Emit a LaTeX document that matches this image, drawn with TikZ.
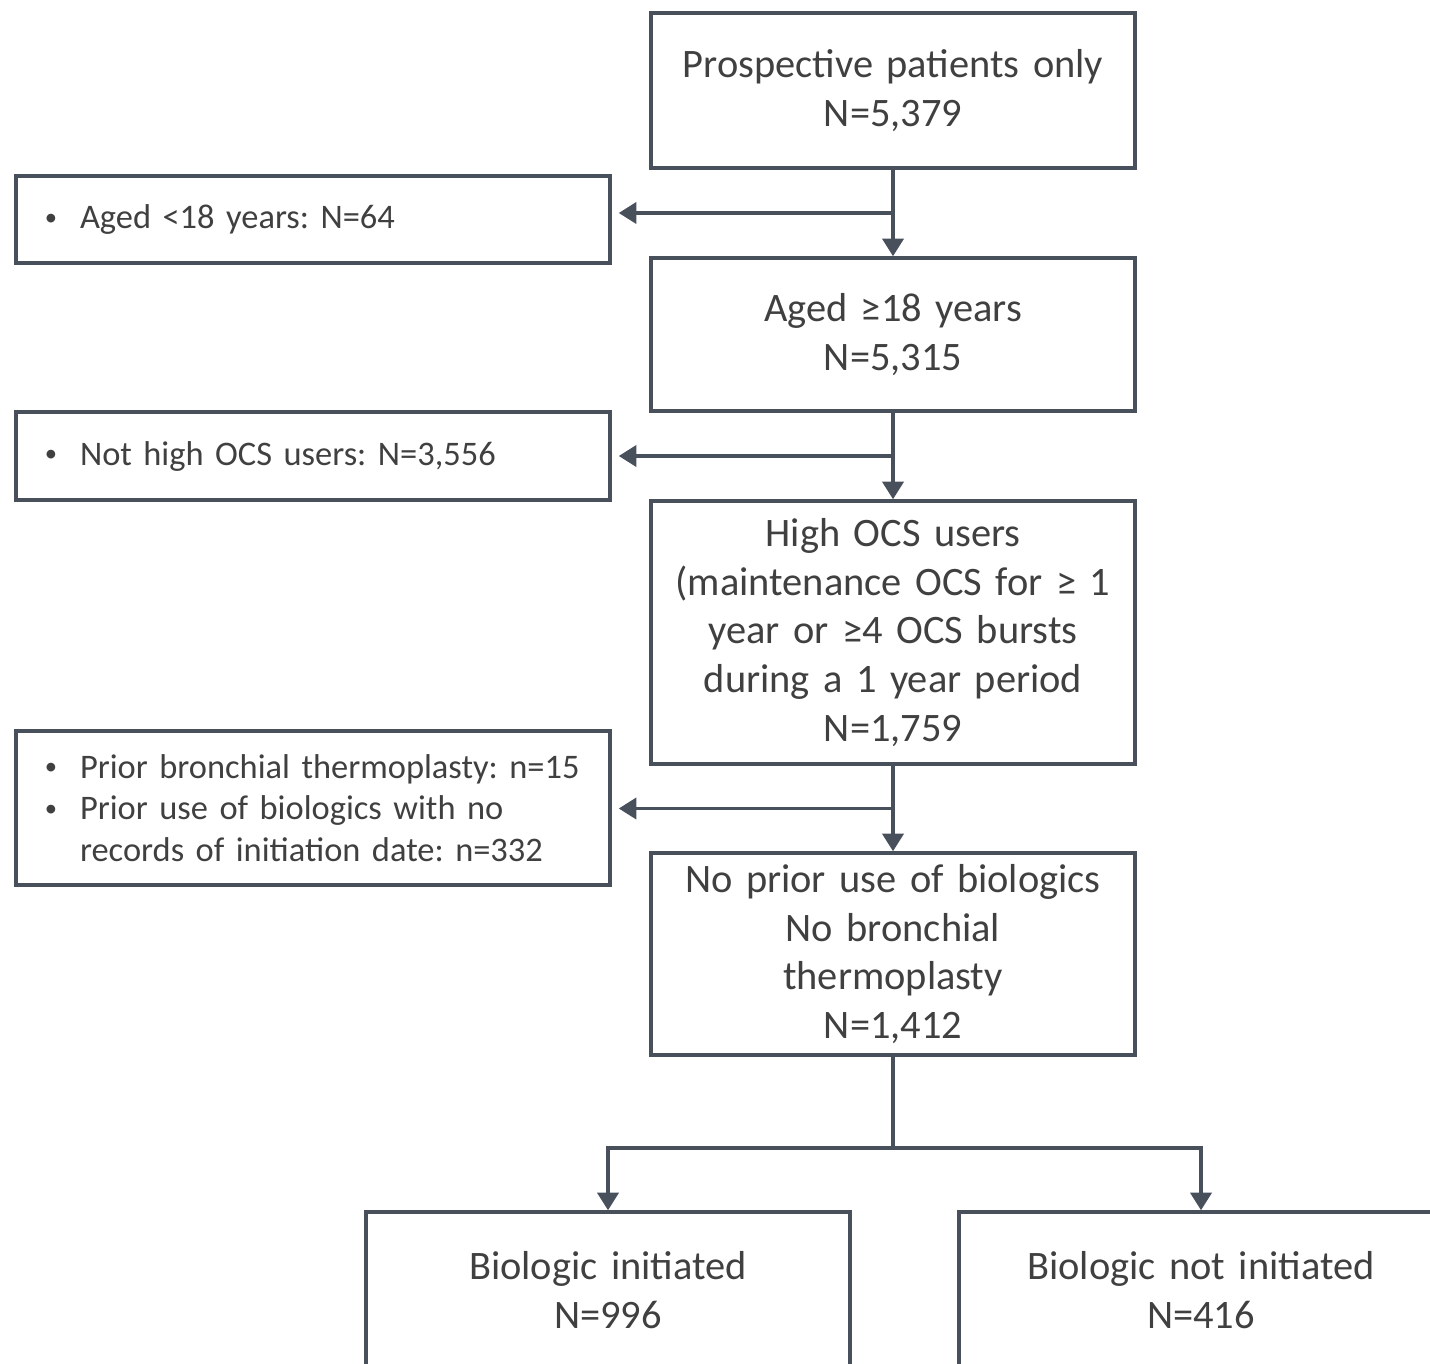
\documentclass[tikz,border=0pt]{standalone}
\usepackage{fontspec}
\setmainfont{Carlito}
\usepackage{xcolor}
\usetikzlibrary{positioning,calc,arrows.meta}

\definecolor{linegray}{RGB}{72,80,92}
\definecolor{textgray}{RGB}{64,64,64}
\newcommand{\bitem}{\makebox[0.47cm][l]{\hspace{0.12cm}\raisebox{0.2ex}{\fontsize{7}{7}\selectfont\textbullet}}}
\newcommand{\bcont}{\hspace*{0.47cm}}

\begin{document}
\begin{tikzpicture}[
    every node/.style={text=textgray},
    mainbox/.style={draw=linegray, line width=1pt, minimum width=4.84cm, text width=4.6cm,
        align=center, inner sep=0pt, font=\fontsize{11.5}{13.9}\selectfont},
    exbox/.style={draw=linegray, line width=1pt, minimum width=5.94cm, text width=5.6cm,
        align=left, inner sep=0pt, font=\fontsize{9.8}{11.9}\selectfont\frenchspacing},
    arr/.style={draw=linegray, line width=1pt, -{Triangle[length=5pt,width=6pt]}}
]

\useasboundingbox (0,0) rectangle (14.3,-13.63);

% Main flow
\node[mainbox, minimum height=1.55cm] (start) at (8.93,-0.905) {Prospective patients only\\N=5,379};
\node[mainbox, minimum height=1.53cm] (adult) at (8.93,-3.345) {Aged ≥18 years\\N=5,315};
\node[mainbox, minimum height=2.63cm] (highocs) at (8.93,-6.325) {High OCS users\\(maintenance OCS for ≥ 1\\year or ≥4 OCS bursts\\during a 1 year period\\N=1,759};
\node[mainbox, minimum height=2.02cm] (nobio) at (8.93,-9.54) {No prior use of biologics\\No bronchial\\thermoplasty\\N=1,412};

% Exclusions
\node[exbox, minimum height=0.87cm] (exage) at (3.13,-2.195) {\bitem Aged <18 years: N=64};
\node[exbox, minimum height=0.88cm] (exocs) at (3.13,-4.56) {\bitem Not high OCS users: N=3,556};
\node[exbox, minimum height=1.54cm] (exbio) at (3.13,-8.08) {\bitem Prior bronchial thermoplasty: n=15\\
    \bitem Prior use of biologics with no\\\bcont records of initiation date: n=332};

% Outcome boxes
\node[mainbox, minimum height=1.56cm] (init) at (6.08,-12.90) {Biologic initiated\\N=996};
\node[mainbox, minimum height=1.56cm] (noinit) at (12.01,-12.90) {Biologic not initiated\\N=416};

% Arrows
\draw[arr] (start) -- (adult);
\draw[arr] (adult) -- (highocs);
\draw[arr] (highocs) -- (nobio);
\coordinate (j1) at ($(start.south)!.5!(adult.north)$);
\coordinate (j2) at ($(adult.south)!.5!(highocs.north)$);
\coordinate (j3) at ($(highocs.south)!.5!(nobio.north)$);
\draw[arr] (j1) -- ([xshift=0.07cm]exage.east |- j1);
\draw[arr] (j2) -- ([xshift=0.07cm]exocs.east |- j2);
\draw[arr] (j3) -- ([xshift=0.07cm]exbio.east |- j3);

\coordinate (split) at (8.93,-11.48);
\draw[draw=linegray, line width=1pt] (nobio) -- (split);
\draw[arr] (split) -| (init);
\draw[arr] (split) -| (noinit);

\end{tikzpicture}
\end{document}
